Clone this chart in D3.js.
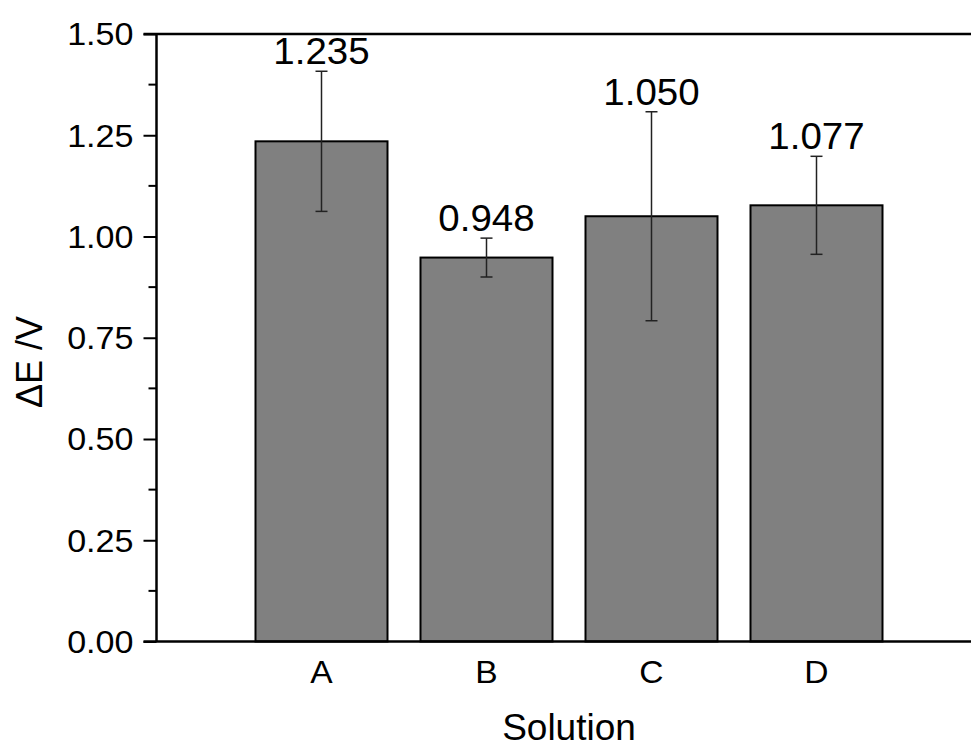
<!DOCTYPE html>
<html>
<head>
<meta charset="utf-8">
<script src="https://cdn.jsdelivr.net/npm/d3@7/dist/d3.min.js"></script>
<style>
  html, body { margin: 0; padding: 0; background: #fff; }
  svg { display: block; }
  text { font-family: "Liberation Sans", Arial, sans-serif; fill: #000; }
</style>
</head>
<body>
<script>
const categories = ["A", "B", "C", "D"];
const values = [1.235, 0.948, 1.050, 1.077];
const errors = [0.173, 0.048, 0.258, 0.121];
const valueLabels = ["1.235", "0.948", "1.050", "1.077"];
const yTicks = [0, 0.25, 0.5, 0.75, 1.0, 1.25, 1.5];
const yMinorTicks = [0.125, 0.375, 0.625, 0.875, 1.125, 1.375];

const W = 971, H = 747;
const svg = d3.select("body").append("svg").attr("width", W).attr("height", H);

const plotLeft = 156.5, plotTop = 34, plotBottom = 641.5;
const step = 165;
const y = d3.scaleLinear().domain([0, 1.5]).range([plotBottom, plotTop]);
const x = d3.scaleBand().domain(categories)
  .range([plotLeft + step * 0.5, plotLeft + step * 4.5])
  .paddingInner(0.2).paddingOuter(0.1);

// bars
svg.append("g").selectAll("rect").data(values).join("rect")
  .attr("x", (d, i) => x(categories[i]))
  .attr("y", d => y(d))
  .attr("width", x.bandwidth())
  .attr("height", d => y(0) - y(d))
  .attr("fill", "#808080")
  .attr("stroke", "#000")
  .attr("stroke-width", 2);

// error bars
const eg = svg.append("g").attr("stroke", "#222").attr("stroke-width", 1.5);
values.forEach((v, i) => {
  const cx = x(categories[i]) + x.bandwidth() / 2;
  const hi = y(v + errors[i]), lo = y(v - errors[i]);
  eg.append("line").attr("x1", cx).attr("x2", cx).attr("y1", hi).attr("y2", lo);
  eg.append("line").attr("x1", cx - 6).attr("x2", cx + 6).attr("y1", hi).attr("y2", hi);
  eg.append("line").attr("x1", cx - 6).attr("x2", cx + 6).attr("y1", lo).attr("y2", lo);
});

// value labels
svg.append("g").selectAll("text").data(values).join("text")
  .attr("transform", (d, i) => `translate(${x(categories[i]) + x.bandwidth() / 2},${y(d + errors[i]) - 7}) scale(1.04,1)`)
  .attr("text-anchor", "middle")
  .attr("font-size", 37)
  .text((d, i) => valueLabels[i]);

// y axis
const yAxis = d3.axisLeft(y).tickValues(yTicks).tickFormat(d3.format(".2f")).tickSize(13).tickPadding(10);
const yg = svg.append("g").attr("transform", `translate(${plotLeft},0)`).call(yAxis);
yg.select(".domain").remove();
yg.selectAll(".tick line").attr("stroke", "#000").attr("stroke-width", 2);
yg.selectAll(".tick text")
  .attr("font-size", 31)
  .attr("font-family", "Liberation Sans, Arial, sans-serif")
  .attr("fill", "#000")
  .attr("dy", "0.35em")
  .attr("transform", "scale(1.1,1)")
  .attr("x", -23 / 1.1);

svg.append("g").selectAll("line").data(yMinorTicks).join("line")
  .attr("x1", plotLeft - 8).attr("x2", plotLeft)
  .attr("y1", d => y(d)).attr("y2", d => y(d))
  .attr("stroke", "#000").attr("stroke-width", 2);

// frame lines
svg.append("line").attr("x1", plotLeft).attr("x2", plotLeft).attr("y1", plotTop).attr("y2", plotBottom)
  .attr("stroke", "#000").attr("stroke-width", 2.5);
svg.append("line").attr("x1", plotLeft - 13).attr("x2", W).attr("y1", plotTop).attr("y2", plotTop)
  .attr("stroke", "#000").attr("stroke-width", 2.5);
svg.append("line").attr("x1", plotLeft - 13).attr("x2", W).attr("y1", plotBottom).attr("y2", plotBottom)
  .attr("stroke", "#000").attr("stroke-width", 2.5);

// x tick labels
svg.append("g").selectAll("text").data(categories).join("text")
  .attr("transform", d => `translate(${x(d) + x.bandwidth() / 2},683) scale(1.05,1)`)
  .attr("text-anchor", "middle")
  .attr("font-size", 32)
  .text(d => d);

// axis titles
svg.append("text")
  .attr("x", plotLeft + step * 2.5).attr("y", 740)
  .attr("text-anchor", "middle")
  .attr("font-size", 37)
  .text("Solution");

svg.append("text")
  .attr("transform", "translate(42,362) rotate(-90)")
  .attr("text-anchor", "middle")
  .attr("font-size", 36)
  .text("ΔE /V");
</script>
</body>
</html>
